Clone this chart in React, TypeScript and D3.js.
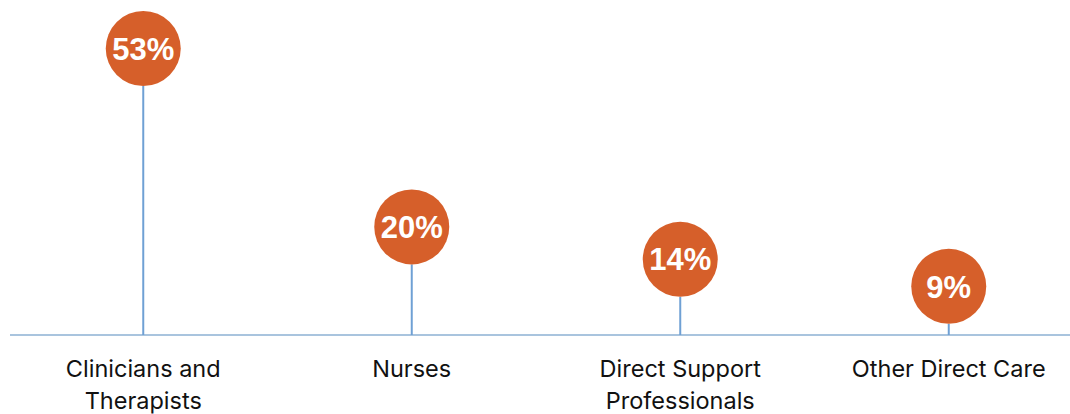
import React from "react";
import * as d3 from "d3";

const categories = [["Clinicians and", "Therapists"], ["Nurses"], ["Direct Support", "Professionals"], ["Other Direct Care"]];
const values = [53, 20, 14, 9];
const valueLabels = ["53%", "20%", "14%", "9%"];

const width = 1070;
const height = 414;
const baseY = 335;

export default function App() {
  const x = d3.scaleBand<number>().domain(d3.range(values.length)).range([9, 1083]).padding(0);
  const y = d3.scaleLinear().domain([0, 53]).range([baseY, 48.5]);
  const r = 37.5;

  return (
    <svg width={width} height={height} style={{ position: "absolute", left: 0, top: 0, background: "#fff" }}>
      <line x1={10} x2={width} y1={baseY} y2={baseY} stroke="#a9c4de" strokeWidth={2} />
      {values.map((v, i) => {
        const cx = x(i)! + x.bandwidth() / 2;
        const cy = y(v);
        return (
          <g key={i}>
            <line x1={cx} x2={cx} y1={baseY} y2={cy + r} stroke="#6fa0d4" strokeWidth={2} />
            <circle cx={cx} cy={cy} r={r} fill="#d65f2a" />
            <text x={cx} y={cy} dy="0.36em" textAnchor="middle" fill="#fff" fontFamily="Liberation Sans, Arial, sans-serif" fontWeight="bold" fontSize={31}>
              {valueLabels[i]}
            </text>
            {categories[i].map((t, j) => (
              <text key={j} x={cx} y={377 + j * 32} textAnchor="middle" fill="#111" fontFamily="Inter, Open Sans, sans-serif" fontSize={23.5}>
                {t}
              </text>
            ))}
          </g>
        );
      })}
    </svg>
  );
}
